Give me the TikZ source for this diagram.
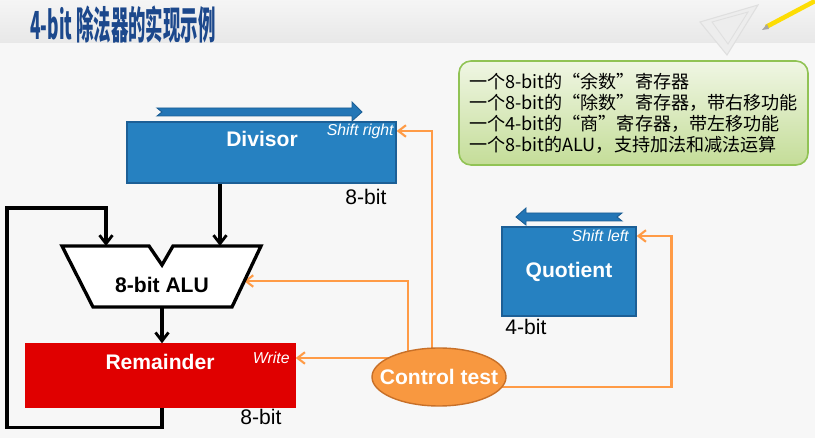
\documentclass[tikz,border=0pt]{standalone}
\usepackage{fontspec}
\setmainfont{Liberation Sans}
\newfontfamily\cjk{Noto Sans CJK SC}
\newfontfamily\cjktitle{Noto Sans CJK SC}[FakeStretch=0.45]
\usetikzlibrary{shapes,arrows.meta,calc}

\definecolor{regblue}{RGB}{38,129,193}
\definecolor{regedge}{RGB}{28,95,150}
\definecolor{arrblue}{RGB}{35,118,182}
\definecolor{remred}{RGB}{224,0,0}
\definecolor{ctlline}{RGB}{255,155,70}
\definecolor{ctlfill}{RGB}{248,152,64}
\definecolor{ctledge}{RGB}{200,112,40}
\definecolor{titleblue}{RGB}{28,72,140}
\definecolor{noteedge}{RGB}{145,195,85}
\definecolor{notetop}{RGB}{240,246,228}
\definecolor{notebot}{RGB}{196,221,152}

\pgfdeclarelayer{back}
\pgfdeclarelayer{wires}
\pgfsetlayers{back,wires,main}

\newcommand\pxu{0.02cm}

\tikzset{
  reg/.style={draw=regedge, line width=0.8pt, fill=regblue, text=white, inner sep=0pt},
  regname/.style={text=white, font=\bfseries\fontsize{12}{14}\selectfont},
  regop/.style={text=white, font=\itshape\fontsize{9}{11}\selectfont, inner sep=0pt, anchor=east},
  width/.style={font=\fontsize{12}{14}\selectfont, inner sep=0pt},
  data/.style={line width=1.9pt, -{Straight Barb[length=1.7mm, width=2.6mm, line width=1.6pt]}},
  ctrl/.style={ctlline, line width=1.4pt, -{Straight Barb[length=1.5mm, width=2.3mm, line width=1.2pt]}},
  blockarrow/.style={fill=arrblue, draw=regedge, line width=0.5pt}
}

\begin{document}
\begin{tikzpicture}[x=\pxu, y=-\pxu]
\useasboundingbox (0,0) rectangle (815,438);
\begin{pgfonlayer}{back}
  \fill[white!97!black] (0,0) rectangle (815,438);
  \shade[top color=white!96!black, bottom color=white!91!black] (0,0) rectangle (815,43);
  % drawing tools in the corner
  \draw[gray!25, fill=white!93!black, line width=0.6pt] (700,22) -- (758,5) -- (727,55) -- cycle;
  \draw[gray!25, line width=0.5pt] (712,22) -- (748,12) -- (728,44) -- cycle;
  \draw[line width=2.6pt, yellow!80!orange] (766,27) -- (815,1);
  \fill[gray!70] (762,30) -- (767,24) -- (769,29) -- cycle;
\end{pgfonlayer}

\node[font=\cjktitle\bfseries\fontsize{22}{24}\selectfont, text=titleblue, anchor=west, inner sep=0pt] (title) at (30,25) {4-bit 除法器的实现示例};

% note
\node[draw=noteedge, line width=0.9pt, rounded corners=0.24cm, top color=notetop, bottom color=notebot,
      minimum width=349*\pxu, minimum height=104*\pxu, align=left,
      font=\cjk\fontsize{10.3}{11.9}\selectfont] (note) at (633.5,113)
  {一个8-bit的“余数”寄存器\\
   一个8-bit的“除数”寄存器，带右移功能\\
   一个4-bit的“商”寄存器，带左移功能\\
   一个8-bit的ALU，支持加法和减法运算};

% divisor register
\node[reg, minimum width=269*\pxu, minimum height=61*\pxu] (divisor) at (261.5,152.5) {};
\node[regname] (divname) at (262,139) {Divisor};
\node[regop] (shr) at (394,131) {Shift right};
\node[width] (divbits) at (366,197) {8-bit};
\draw[blockarrow] (157,108) -- (352,108) -- (352,102) -- (362,112) -- (352,121) -- (352,116) -- (157,116) -- (162,112) -- cycle;

% quotient register
\node[reg, minimum width=134*\pxu, minimum height=89*\pxu, regname] (quotient) at (569,271.5) {Quotient};
\node[regop] (shl) at (629,236) {Shift left};
\node[width, anchor=west] (quobits) at (505,327) {4-bit};
\draw[blockarrow] (622,213) -- (526,213) -- (526,208) -- (516,217) -- (526,225) -- (526,221) -- (622,221) -- (617,217) -- cycle;

% ALU
\draw[line width=1.9pt, fill=white, line join=miter] (62,246) -- (149,246) -- (162,265) -- (173,246) -- (261,246) -- (232,307) -- (93,307) -- cycle;
\node[font=\bfseries\fontsize{12}{14}\selectfont] (alu) at (162,285) {8-bit ALU};
\coordinate (aluinA) at (106,246);
\coordinate (aluinB) at (220,246);
\coordinate (aluout) at (162,307);
\coordinate (aluctl) at (244,281);

% remainder register
\node[reg, draw=remred, fill=remred, minimum width=269*\pxu, minimum height=63*\pxu] (remainder) at (160.5,375.5) {};
\node[regname] (remname) at (160,362) {Remainder};
\node[regop] (wr) at (290,358) {Write};
\node[width] (rembits) at (261,417) {8-bit};

% control
\node[ellipse, draw=ctledge, line width=0.8pt, fill=ctlfill, minimum width=134*\pxu, minimum height=58*\pxu,
      inner sep=0pt] (ctl) at (439,377) {};
\node[regname] (ctlname) at (ctl) {Control test};

% data paths
\draw[data] (divisor.south -| aluinB) -- (aluinB);
\draw[data] (aluout) -- (remainder.north -| aluout);
\draw[data] ([xshift=1.5*\pxu]remainder.south) -- ++(0,20) -| (7,208) -| (aluinA);

% control paths
\begin{pgfonlayer}{wires}
\draw[ctrl] ([xshift=-7*\pxu]ctl.center) |- (divisor.east |- shr.east);
\draw[ctrl] ([xshift=-31*\pxu]ctl.center) |- (aluctl);
\draw[ctrl] (ctl.center |- wr.east) -- (remainder.east |- wr.east);
\draw[ctrl] ([yshift=-10*\pxu]ctl.center) -| ($(quotient.east |- shl.east)+(35,0)$) -- (quotient.east |- shl.east);
\end{pgfonlayer}
\end{tikzpicture}
\end{document}
